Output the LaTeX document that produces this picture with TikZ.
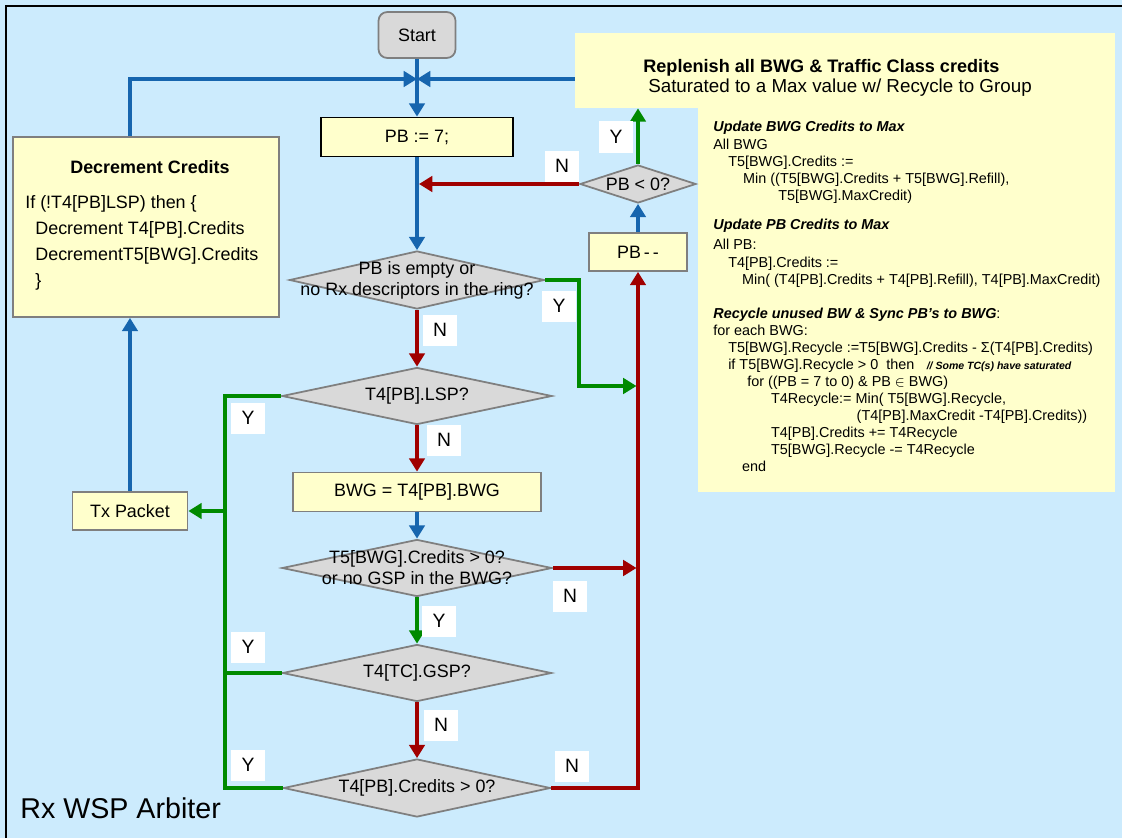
\documentclass[tikz,border=0pt]{standalone}
\usepackage{fontspec}
\setmainfont{Liberation Sans}
\usetikzlibrary{positioning,arrows.meta,shapes.geometric}
\definecolor{paper}{HTML}{CCEBFD}
\definecolor{notec}{HTML}{FFFFCC}
\definecolor{askc}{HTML}{D9D9D9}
\definecolor{edgec}{HTML}{7F7F7F}
\definecolor{flowb}{HTML}{1665AE}
\definecolor{flowr}{HTML}{A00000}
\definecolor{flowg}{HTML}{008A00}
\newcommand{\pxu}{0.02cm}
\newcommand{\detailfont}{\fontsize{8.2}{9.8}\selectfont}
\tikzset{
  procbox/.style={draw=edgec, fill=notec, line width=1pt, inner sep=0pt},
  notebox/.style={fill=notec, inner sep=0pt},
  ask/.style={diamond, draw=edgec, fill=askc, line width=1pt, inner sep=0pt},
  asktext/.style={align=center, inner sep=0pt},
  txt/.style={anchor=west, align=left, inner sep=0pt},
  yn/.style={fill=white, minimum width=34*\pxu, minimum height=31*\pxu, inner sep=0pt, font=\fontsize{11}{11}\selectfont},
  flowline/.style={line width=2.4pt, -{Triangle[length=7.6pt,width=8.8pt]}},
  bflow/.style={flowline, flowb},
  rflow/.style={flowline, flowr},
  gflow/.style={flowline, flowg},
  gline/.style={line width=2.4pt, flowg},
}

\begin{document}
\begin{tikzpicture}[x=\pxu, y=-\pxu, font=\fontsize{10.2}{12}\selectfont]
  % page
  \fill[paper] (0,0) rectangle (1122,838);
  \useasboundingbox (0,0) rectangle (1122,838);
  \draw[line width=1.2pt] (6,838) -- (6,6) -- (1122,6);
  % replenish notes
  \node[notebox, minimum width=540*\pxu, minimum height=75*\pxu] (repl) at (845,70.5) {};
  \node[notebox, minimum width=417*\pxu, minimum height=384*\pxu] (detail) at (906.5,300) {};
  \node[txt, font=\fontsize{10.3}{11.4}\selectfont] (repltxt) at (643,78) {\textbf{Replenish all BWG \& Traffic Class credits}\\\hspace*{2.8pt}{\fontsize{10.7}{11.4}\selectfont Saturated to a Max value w/ Recycle to Group}};
  \node[txt, font=\detailfont] (updbwg) at (713,162.5) {{\bfseries\itshape Update BWG Credits to Max}\\All BWG\\\hspace*{8.5pt}T5[BWG].Credits :=\\\hspace*{17pt}Min ((T5[BWG].Credits + T5[BWG].Refill),\\\hspace*{37pt}T5[BWG].MaxCredit)};
  \node[txt, font=\detailfont] (updpb) at (713,253) {{\bfseries\itshape Update PB Credits to Max}\\[2pt]All PB:\\\hspace*{8.5pt}T4[PB].Credits :=\\\hspace*{16.4pt}Min( (T4[PB].Credits + T4[PB].Refill), T4[PB].MaxCredit)};
  \node[txt, font=\fontsize{8.2}{9.7}\selectfont] (recyc) at (713,390) {{\bfseries\itshape Recycle unused BW \& Sync PB's to BWG}:\\for each BWG:\\\hspace*{8.5pt}T5[BWG].Recycle :=T5[BWG].Credits - Σ(T4[PB].Credits)\\\hspace*{8.5pt}if T5[BWG].Recycle > 0\ \ then\hspace{7pt}{\fontsize{6}{6}\selectfont\bfseries\itshape // Some TC(s) have saturated}\\\hspace*{19.3pt}for ((PB = 7 to 0) \& PB $\in$ BWG)\\\hspace*{32.9pt}T4Recycle:= Min( T5[BWG].Recycle,\\\hspace*{81.6pt}(T4[PB].MaxCredit -T4[PB].Credits))\\\hspace*{32.9pt}T4[PB].Credits += T4Recycle\\\hspace*{32.9pt}T5[BWG].Recycle -= T4Recycle\\\hspace*{16.4pt}end};
  % main flow
  \node[procbox, rounded corners=5pt, fill=askc, minimum width=77*\pxu, minimum height=46*\pxu] (start) at (417,35) {Start};
  \node[procbox, draw=black, minimum width=192*\pxu, minimum height=39*\pxu] (init) at (417,137) {PB := 7;};
  \node[ask, minimum width=255*\pxu, minimum height=58*\pxu] (dring) at (417,280) {};
  \node[asktext] (dringt) at (dring) {PB is empty or\\no Rx descriptors in the ring?};
  \node[ask, minimum width=270*\pxu, minimum height=57*\pxu] (dlsp) at (417,396) {};
  \node[asktext] (dlspt) at (dlsp) {T4[PB].LSP?};
  \node[procbox, minimum width=248*\pxu, minimum height=39*\pxu] (bwg) at (417,492) {BWG = T4[PB].BWG};
  \node[ask, minimum width=270*\pxu, minimum height=57*\pxu] (dbwg) at (417,568) {};
  \node[asktext] (dbwgt) at (dbwg) {T5[BWG].Credits > 0?\\or no GSP in the BWG?};
  \node[ask, minimum width=269*\pxu, minimum height=57*\pxu] (dgsp) at (417,673) {};
  \node[asktext] (dgspt) at (dgsp) {T4[TC].GSP?};
  \node[ask, minimum width=267*\pxu, minimum height=58*\pxu] (dcred) at (417,788) {};
  \node[asktext] (dcredt) at (dcred) {T4[PB].Credits > 0?};
  % right loop
  \node[procbox, minimum width=98*\pxu, minimum height=38*\pxu] (pbdec) at (638,252) {PB\,-\,-};
  \node[ask, minimum width=116*\pxu, minimum height=38*\pxu] (dneg) at (638,184) {};
  \node[asktext] (dnegt) at (dneg) {PB < 0?};
  % left side
  \node[procbox, minimum width=266*\pxu, minimum height=180*\pxu] (decr) at (146,227) {};
  \node[font=\bfseries\fontsize{10.2}{12}\selectfont] (decrt) at (150,167) {Decrement Credits};
  \node[txt, font=\fontsize{10.2}{14.8}\selectfont] (decrb) at (25,243) {If (!T4[PB]LSP) then \{\\\hspace*{5.7pt}Decrement T4[PB].Credits\\\hspace*{5.7pt}DecrementT5[BWG].Credits\\\hspace*{5.7pt}\}};
  \node[procbox, minimum width=115*\pxu, minimum height=38*\pxu] (txp) at (130,511) {Tx Packet};
  \node[anchor=base west, inner sep=0pt, font=\fontsize{16.3}{18}\selectfont] (arbname) at (20,818) {Rx WSP Arbiter};
  % joins
  \coordinate (jtop) at (417,79);
  \coordinate (jneg) at (419,184);
  \coordinate (jring) at (636.5,386);
  \coordinate (jbwg) at (636.5,568);
  \coordinate (gtx) at (225,511);
  \coordinate (ggsp) at (225,673);
  % connectors
  \draw[bflow] (start) -- (init);
  \draw[bflow] (txp |- decr.north) |- (jtop);
  \draw[bflow] (repl.west |- jtop) -- (jtop);
  \draw[bflow] (init) -- (dring);
  \draw[rflow] (dneg) -- (jneg);
  \draw[rflow] (dring) -- (dlsp);
  \draw[rflow] (dlsp) -- (bwg);
  \draw[bflow] (bwg) -- (dbwg);
  \draw[gflow] (dbwg) -- (dgsp);
  \draw[rflow] (dgsp) -- (dcred);
  \draw[gflow] (dring.east) -| (579,386) -- (jring);
  \draw[rflow] (dbwg.east) -- (jbwg);
  \draw[rflow] (dcred.east) -| (pbdec.south);
  \draw[bflow] (pbdec) -- (dneg);
  \draw[gflow] (dneg) -- (dneg |- repl.south);
  \draw[gline] (dlsp.west) -| (gtx) |- (dcred.west);
  \draw[gline] (dgsp.west) -- (ggsp);
  \draw[gflow] (gtx) -- (txp);
  \draw[bflow] (txp) -- (txp |- decr.south);
  % Y / N
  \node[yn] (nneg) at (562,166) {N};
  \node[yn] (yneg) at (616,137) {Y};
  \node[yn] (yring) at (559,306) {Y};
  \node[yn] (nring) at (440,330) {N};
  \node[yn] (ylsp) at (248,418) {Y};
  \node[yn] (nlsp) at (444,440) {N};
  \node[yn] (nbwg) at (570,596) {N};
  \node[yn] (ybwg) at (439,621) {Y};
  \node[yn] (ygsp) at (248,647) {Y};
  \node[yn] (ngsp) at (441,725) {N};
  \node[yn] (ycred) at (248,765) {Y};
  \node[yn] (ncred) at (572,766) {N};
\end{tikzpicture}
\end{document}
